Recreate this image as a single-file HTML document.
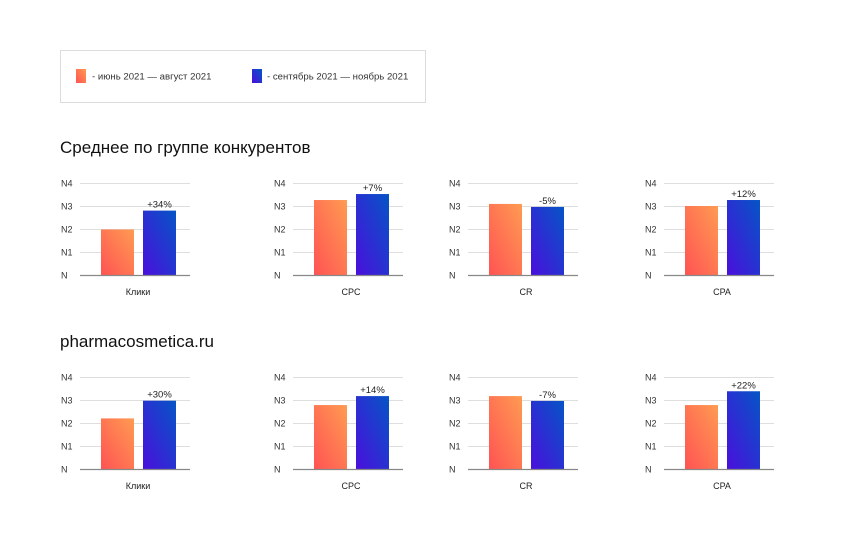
<!DOCTYPE html>
<html><head><meta charset="utf-8"><style>
body{margin:0;background:#fff;font-family:"Liberation Sans","DejaVu Sans",sans-serif;}
#wrap{position:relative;width:850px;height:536px;overflow:hidden}
</style></head><body>
<div id="wrap">
<svg id="svg" width="850" height="536" xmlns="http://www.w3.org/2000/svg">
<defs>
<linearGradient id="gO" x1="0" y1="1" x2="1" y2="0"><stop offset="0" stop-color="#ff5353"/><stop offset="1" stop-color="#ff9b52"/></linearGradient>
<linearGradient id="gB" x1="0" y1="1" x2="1" y2="0"><stop offset="0" stop-color="#4a0fdc"/><stop offset="1" stop-color="#0555c6"/></linearGradient>
</defs>
<g>
<rect x="60.5" y="50.5" width="365" height="52" fill="#fff" stroke="#dcdcdc"/>
<rect x="76" y="69" width="10" height="14" fill="url(#gO)"/>
<text x="92" y="79.5" font-size="9.6" fill="#333">- июнь 2021 — август 2021</text>
<rect x="252" y="69" width="10" height="14" fill="url(#gB)"/>
<text x="267" y="79.5" font-size="9.6" fill="#333">- сентябрь 2021 — ноябрь 2021</text>
</g>
<text x="60" y="153" font-size="17" fill="#111">Среднее по группе конкурентов</text>
<text x="60" y="347" font-size="17" fill="#111">pharmacosmetica.ru</text>
</svg>
</div>
<script>
const categories = ["Клики","CPC","CR","CPA"];
const tickLabels = ["N","N1","N2","N3","N4"];
const row1Period1 = [1.98, 3.26, 3.09, 3.0];
const row1Period2 = [2.8, 3.52, 2.96, 3.26];
const row1Changes = ["+34%","+7%","-5%","+12%"];
const row2Period1 = [2.2, 2.78, 3.17, 2.78];
const row2Period2 = [2.97, 3.17, 2.96, 3.38];
const row2Changes = ["+30%","+14%","-7%","+22%"];

const svg = document.getElementById('svg');
const NS = 'http://www.w3.org/2000/svg';
const axisStarts = [80, 293, 468, 664];
const axisW = 110, unit = 23;
function mk(tag, attrs){const e=document.createElementNS(NS,tag);for(const k in attrs)e.setAttribute(k,attrs[k]);svg.appendChild(e);return e;}
function drawRow(baseY, p1, p2, changes, rowName){
  const y = v => baseY - v*unit;
  categories.forEach((cat,i)=>{
    const x0 = axisStarts[i];
    tickLabels.forEach((t,k)=>{
      if(k>0){const g=mk('line',{x1:x0,x2:x0+axisW,y1:y(k)+0.5,y2:y(k)+0.5,stroke:'#dedede','stroke-width':1});
        
        }
      const tl=mk('text',{x:x0-19,y:y(k)+3.5,'font-size':9,fill:'#333'});
      tl.textContent=t;
      
      
    });
    const b1=mk('rect',{x:x0+21,y:y(p1[i]),width:33,height:p1[i]*unit,fill:'url(#gO)'});
    
    
    const b2=mk('rect',{x:x0+63,y:y(p2[i]),width:33,height:p2[i]*unit,fill:'url(#gB)'});
    
    
    const ch=mk('text',{x:x0+79.5,y:y(p2[i])-3,'font-size':9.5,fill:'#222','text-anchor':'middle'});
    ch.textContent=changes[i];
    
    
    const base=mk('line',{x1:x0,x2:x0+axisW,y1:baseY+0.5,y2:baseY+0.5,stroke:'#888','stroke-width':1.2});
    
    
    const cl=mk('text',{x:x0+58,y:baseY+20,'font-size':9,fill:'#222','text-anchor':'middle'});
    cl.textContent=cat;
    
    
  });
}
drawRow(275, row1Period1, row1Period2, row1Changes, 'competitors');
drawRow(469, row2Period1, row2Period2, row2Changes, 'site');
</script>
</body></html>
